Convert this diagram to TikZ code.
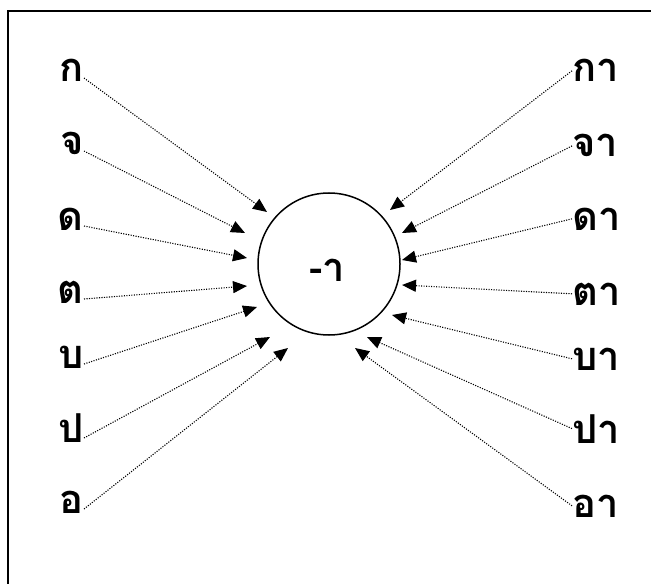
\documentclass[tikz,border=0pt]{standalone}
\usepackage{fontspec}
\newfontfamily\thaifont[Script=Thai]{Loma}
\usetikzlibrary{arrows.meta}

\begin{document}
\begin{tikzpicture}[
      x=1bp, y=-1bp,
      font=\thaifont\bfseries\fontsize{40}{40}\selectfont,
      lbl/.style={inner sep=0pt},
      vow/.style={draw, circle, line width=1.5bp, minimum size=142bp,
                  inner sep=0pt},
      lnk/.style={line width=1.1bp, dash pattern=on 1.1bp off 1.4bp},
      >={Triangle[length=14bp,width=12bp]}
    ]
    \useasboundingbox (0,0) rectangle (651,584);
    % frame
    \draw[line width=1.8bp] (8,584) -- (8,11) -- (651,11);

    % vowel circle
    \node[vow] (v) at (329,264) {};
    \node[lbl] (vt) at (327,270) {-า};

    % consonants, left column
    \foreach \n/\t/\y/\tx/\ty in {k/ก/82/267/212, c/จ/155/245/233,
        d/ด/230/247/258, t/ต/303/247/286, b/บ/368/257/307,
        p/ป/442/270/337, o/อ/513/288/348} {
      \node[lbl, anchor=base east] (\n) at (84,\y) {\t};
      \coordinate (\n tip) at (\tx,\ty);
      \draw[lnk, ->] ([yshift=4bp]\n.base east) -- (\n tip);
    }

    % syllables with -า, right column
    \foreach \n/\t/\y/\tx/\ty in {ka/กา/82/390/210, ca/จา/157/402/233,
        da/ดา/230/402/260, ta/ตา/305/402/285, ba/บา/370/392/315,
        pa/ปา/443/367/337, oa/อา/517/355/348} {
      \node[lbl, anchor=base west] (\n) at (572,\y) {\t};
      \coordinate (\n tip) at (\tx,\ty);
      \draw[lnk, ->] (\n.west) -- (\n tip);
    }
  \end{tikzpicture}
\end{document}
